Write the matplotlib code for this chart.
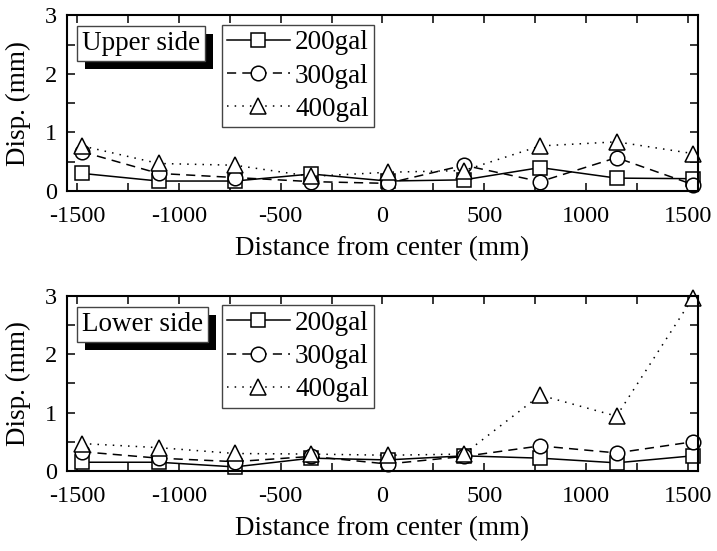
import numpy as np
import matplotlib.pyplot as plt
import matplotlib.patheffects as pe
from matplotlib.ticker import MultipleLocator

plt.rcParams['font.family'] = ['Liberation Serif', 'DejaVu Serif']
plt.rcParams['axes.unicode_minus'] = False

dist = [-1475, -1100, -725, -350, 25, 400, 775, 1150, 1525]

upper_200 = [0.30, 0.17, 0.17, 0.29, 0.17, 0.19, 0.40, 0.22, 0.21]
upper_300 = [0.67, 0.30, 0.23, 0.16, 0.13, 0.44, 0.16, 0.57, 0.11]
upper_400 = [0.77, 0.47, 0.44, 0.25, 0.32, 0.35, 0.77, 0.84, 0.64]

lower_200 = [0.15, 0.15, 0.07, 0.22, 0.19, 0.26, 0.22, 0.14, 0.26]
lower_300 = [0.33, 0.22, 0.16, 0.25, 0.12, 0.25, 0.43, 0.31, 0.50]
lower_400 = [0.47, 0.40, 0.30, 0.29, 0.27, 0.29, 1.30, 0.94, 2.97]

labels = ['200gal', '300gal', '400gal']

fig = plt.figure(figsize=(7.17, 5.51), dpi=100)
ax1 = fig.add_axes([0.0934, 0.6534, 0.880, 0.3185])
ax2 = fig.add_axes([0.0934, 0.1452, 0.880, 0.3176])

styles = [dict(ls='-', marker='s', ms=9.5),
          dict(ls=(0, (6, 4)), marker='o', ms=10.5),
          dict(ls=(0, (1, 4)), marker='^', ms=12)]

for ax, data, side in [(ax1, [upper_200, upper_300, upper_400], 'Upper side'),
                       (ax2, [lower_200, lower_300, lower_400], 'Lower side')]:
    for y, st, lab in zip(data, styles, labels):
        ax.plot(dist, y, color='black', lw=1.1, mfc='white', mec='black',
                mew=1.1, label=lab, clip_on=False, **st)
    ax.set_xlim(-1550, 1550)
    ax.set_ylim(0, 3)
    ax.xaxis.set_major_locator(MultipleLocator(500))
    ax.xaxis.set_minor_locator(MultipleLocator(250))
    ax.yaxis.set_major_locator(MultipleLocator(1))
    ax.yaxis.set_minor_locator(MultipleLocator(0.5))
    ax.tick_params(which='both', direction='in', top=True, right=True,
                   width=1.1, labelsize=17.5)
    ax.tick_params(which='major', length=6)
    ax.tick_params(which='minor', length=5.5)
    ax.tick_params(axis='x', which='major', pad=10.5)
    ax.tick_params(axis='y', which='major', pad=7)
    for s in ax.spines.values():
        s.set_linewidth(1.5)
    ax.set_xlabel('Distance from center (mm)', fontsize=19.5, labelpad=7)
    ax.set_ylabel('Disp. (mm)', fontsize=19.5, labelpad=10)

    leg = ax.legend(loc='upper left', bbox_to_anchor=(0.2456, 0.946),
                    borderaxespad=0, fontsize=19.5, fancybox=False,
                    edgecolor='#444444', framealpha=1, handlelength=2.3,
                    handletextpad=0.2, labelspacing=0.3, borderpad=0.2)
    leg.get_frame().set_linewidth(1.0)

    t = ax.text(0.0234, 0.91, side, transform=ax.transAxes,
                fontsize=19.5, ha='left', va='top', zorder=10,
                bbox=dict(boxstyle='square,pad=0.18', fc='white',
                          ec='#444444', lw=1.0))
    t.get_bbox_patch().set_path_effects([
        pe.SimplePatchShadow(offset=(5.8, -5.8), shadow_rgbFace='black', alpha=1),
        pe.Normal()])

fig.savefig('out.png', dpi=100)
